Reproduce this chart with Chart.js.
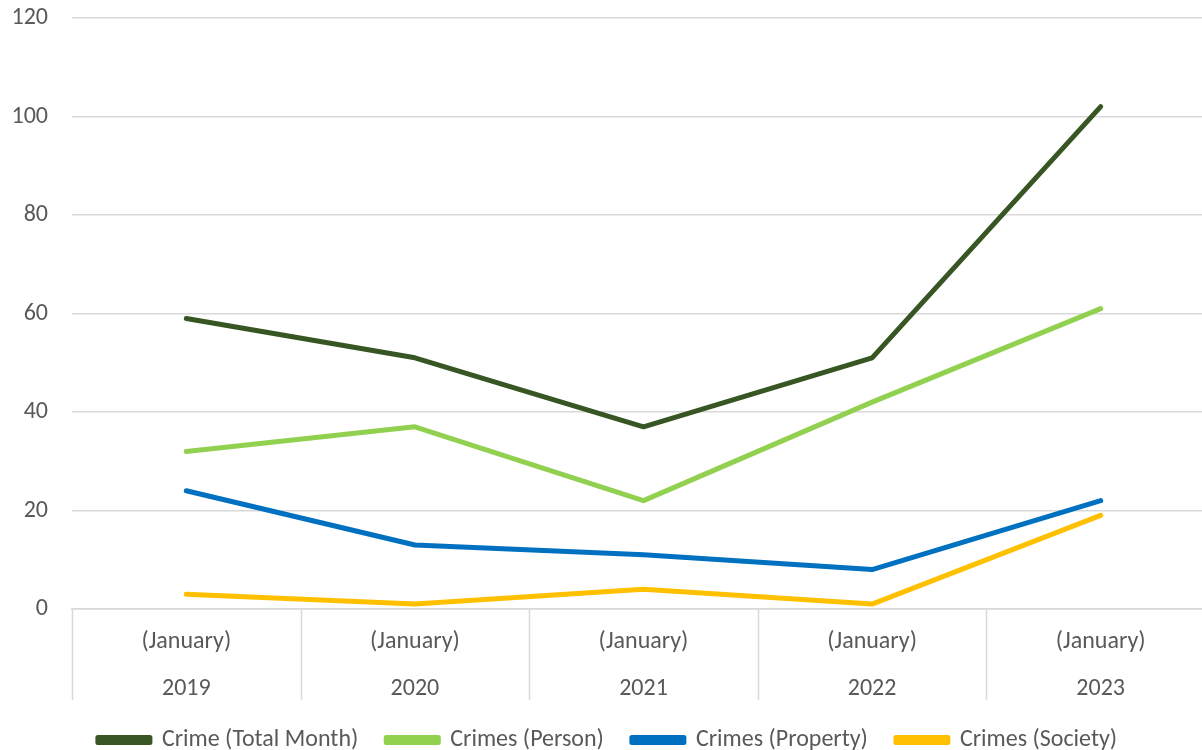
<!DOCTYPE html>
<html>
<head>
<meta charset="utf-8">
<script src="https://cdn.jsdelivr.net/npm/chart.js@4"></script>
<style>
  html, body { margin: 0; padding: 0; background: #fff; overflow: hidden; }
  /* plot runs a little past the right edge of the window, as in the source image */
  #wrap { width: 1215px; height: 750px; position: relative; }
</style>
</head>
<body>
<div id="wrap"><canvas id="c"></canvas></div>
<script>
// categories (two-level axis: month over year)
const MONTHS = ['(January)', '(January)', '(January)', '(January)', '(January)'];
const YEARS  = ['2019', '2020', '2021', '2022', '2023'];

// series values
const TOTAL    = [59, 51, 37, 51, 102];
const PERSON   = [32, 37, 22, 42, 61];
const PROPERTY = [24, 13, 11, 8, 22];
const SOCIETY  = [3, 1, 4, 1, 19];

// y tick range
const Y_MIN = 0, Y_MAX = 120, Y_STEP = 20;

const TEXT_COLOR = '#595959';
const GRID_COLOR = '#d9d9d9';
const FONT = '"Carlito", "Lato", "Open Sans", sans-serif';

const line = (label, data, color) => ({
    label, data,
    borderColor: color, backgroundColor: color,
    borderWidth: 5, pointRadius: 0, tension: 0,
    borderCapStyle: 'round', borderJoinStyle: 'round',
});

/* category separators hanging under the x axis (multi-level axis look) */
const separators = {
    id: 'separators',
    afterDraw(chart) {
        const xs = chart.scales.x;
        const { ctx, chartArea } = chart;
        const half = (xs.getPixelForValue(1) - xs.getPixelForValue(0)) / 2;
        ctx.save();
        ctx.strokeStyle = GRID_COLOR;
        ctx.lineWidth = 1.5;
        for (let i = 0; i < YEARS.length; i++) {
            const x = Math.round(xs.getPixelForValue(i) - half) + 0.5;
            ctx.beginPath();
            ctx.moveTo(x, chartArea.bottom);
            ctx.lineTo(x, chartArea.bottom + 91);
            ctx.stroke();
        }
        ctx.restore();
    },
};

new Chart(document.getElementById('c'), {
    type: 'line',
    plugins: [separators],
    data: {
        labels: MONTHS.map((m, i) => [m, YEARS[i]]),
        datasets: [
            line('Crime (Total Month)', TOTAL,    '#375623'),
            line('Crimes (Person)',     PERSON,   '#92d050'),
            line('Crimes (Property)',   PROPERTY, '#0070c0'),
            line('Crimes (Society)',    SOCIETY,  '#ffc000'),
        ],
    },
    options: {
        responsive: true,
        maintainAspectRatio: false,
        animation: false,
        layout: { padding: { top: 18, right: 0, left: 0, bottom: -12 } },
        plugins: {
            legend: {
                position: 'bottom',
                labels: {
                    boxWidth: 52, boxHeight: 5,
                    color: TEXT_COLOR,
                    font: { family: FONT, size: 24 },
                    padding: 28,
                },
            },
            tooltip: { enabled: false },
        },
        scales: {
            x: {
                offset: true,
                afterFit: s => { s.height = 91; },
                grid: { offset: true, drawOnChartArea: false, drawTicks: false },
                border: { display: true, color: GRID_COLOR, width: 1.5 },
                ticks: {
                    color: TEXT_COLOR,
                    font: { family: FONT, size: 24, lineHeight: 1.96 },
                    padding: 9,
                    maxRotation: 0,
                    autoSkip: false,
                },
            },
            y: {
                min: Y_MIN, max: Y_MAX,
                afterFit: s => { s.width = 72; s.paddingTop = 0; s.paddingBottom = 0; },
                grid: { color: GRID_COLOR, lineWidth: 1.5, drawTicks: false },
                border: { display: false },
                ticks: {
                    stepSize: Y_STEP,
                    color: TEXT_COLOR,
                    font: { family: FONT, size: 24 },
                    padding: 24,
                },
            },
        },
    },
});
</script>
</body>
</html>
